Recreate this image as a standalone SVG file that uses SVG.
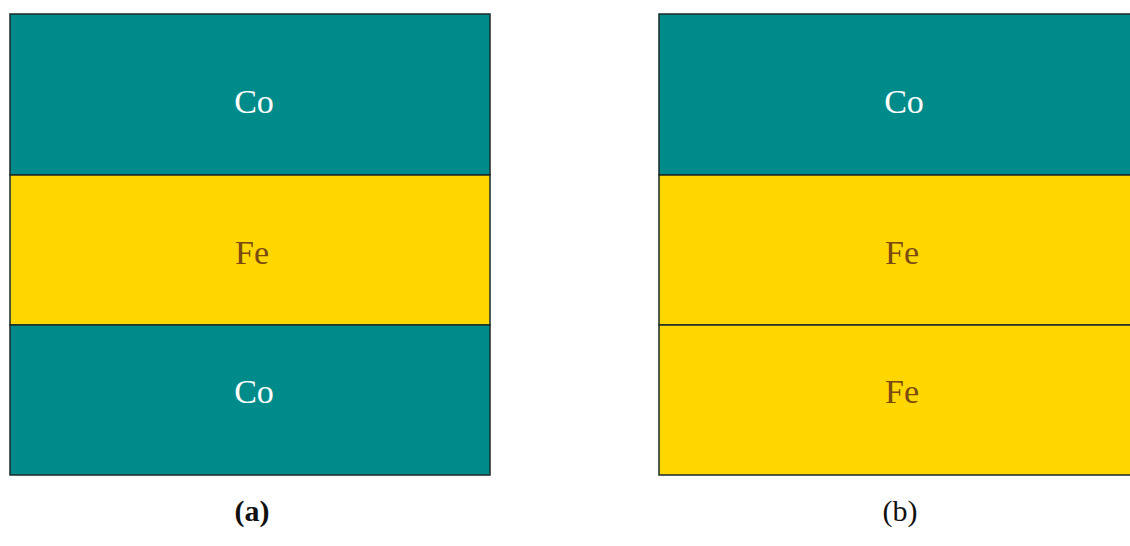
<svg xmlns="http://www.w3.org/2000/svg" width="1130" height="546" viewBox="0 0 1130 546">
<style>
.co{fill:#008B8B;stroke:#1a2a2a;stroke-width:1.5}
.fe{fill:#FFD700;stroke:#1a2a2a;stroke-width:1.5}
.t{font-family:"Liberation Serif",serif;font-size:34px;text-anchor:middle}
.tc{fill:#ffffff}
.tf{fill:#7a4a10}
.lab{font-family:"Liberation Serif",serif;font-size:30px;text-anchor:middle;fill:#111}
</style>
<rect width="1130" height="546" fill="#ffffff"/>
<g id="a">
<g id="a-co-top"><rect class="co" x="10" y="14" width="480" height="161"/><text class="t tc" x="254" y="113">Co</text></g>
<g id="a-fe"><rect class="fe" x="10" y="175" width="480" height="150"/><text class="t tf" x="252" y="264">Fe</text></g>
<g id="a-co-bottom"><rect class="co" x="10" y="325" width="480" height="150"/><text class="t tc" x="254" y="403">Co</text></g>
<text class="lab" x="252" y="521" font-weight="bold">(a)</text>
</g>
<g id="b">
<g id="b-co-top"><rect class="co" x="659" y="14" width="482" height="161"/><text class="t tc" x="904" y="113">Co</text></g>
<g id="b-fe1"><rect class="fe" x="659" y="175" width="482" height="150"/><text class="t tf" x="902" y="264">Fe</text></g>
<g id="b-fe2"><rect class="fe" x="659" y="325" width="482" height="150"/><text class="t tf" x="902" y="403">Fe</text></g>
<text class="lab" x="900" y="521">(b)</text>
</g>
<g id="connectors"/>
</svg>
